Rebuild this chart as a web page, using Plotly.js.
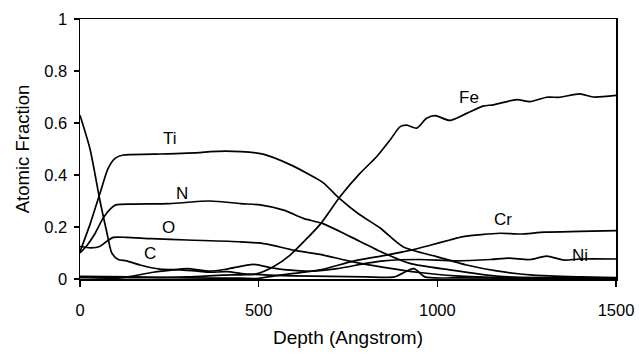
<!DOCTYPE html>
<html>
<head>
<meta charset="utf-8">
<script src="https://cdn.plot.ly/plotly-3.0.1.min.js"></script>
<style>html,body{margin:0;padding:0;background:#fff}#chart{width:639px;height:356px}</style>
</head>
<body>
<div id="chart"></div>
<script>
// Depth (Angstrom) and atomic fraction for each element
const tiDepth = [0, 28, 56, 79, 98, 121, 205, 336, 364, 450, 512, 588, 644, 681, 722, 780, 840, 904, 998, 1082, 1170, 1268, 1400, 1500];
const tiFrac  = [0.105, 0.21, 0.33, 0.426, 0.464, 0.477, 0.48, 0.486, 0.49, 0.49, 0.48, 0.44, 0.40, 0.37, 0.315, 0.25, 0.196, 0.124, 0.086, 0.054, 0.03, 0.015, 0.008, 0.005];

const nDepth = [0, 20, 40, 65, 85, 100, 150, 250, 364, 450, 504, 570, 625, 680, 756, 850, 923, 1035, 1175, 1300, 1500];
const nFrac  = [0.10, 0.13, 0.17, 0.235, 0.27, 0.285, 0.288, 0.29, 0.30, 0.29, 0.285, 0.265, 0.233, 0.213, 0.163, 0.10, 0.06, 0.035, 0.01, 0.005, 0.003];

const oDepth = [0, 30, 55, 75, 93, 130, 200, 300, 450, 520, 600, 672, 750, 850, 950, 1050, 1200, 1500];
const oFrac  = [0.125, 0.12, 0.125, 0.145, 0.16, 0.16, 0.155, 0.15, 0.143, 0.135, 0.11, 0.095, 0.07, 0.045, 0.025, 0.012, 0.005, 0.003];

const cDepth = [0, 28, 56, 75, 89, 107, 130, 168, 224, 280, 330, 364, 411, 460, 530, 600, 700, 800, 880, 934, 965, 1050, 1500];
const cFrac  = [0.63, 0.50, 0.30, 0.18, 0.10, 0.075, 0.07, 0.054, 0.038, 0.035, 0.03, 0.026, 0.028, 0.02, 0.015, 0.012, 0.01, 0.008, 0.008, 0.04, 0.008, 0.004, 0.002];

const feDepth = [0, 100, 200, 300, 400, 494, 541, 588, 640, 675, 728, 784, 830, 868, 896, 914, 942, 970, 994, 1035, 1082, 1128, 1157, 1222, 1259, 1306, 1343, 1399, 1436, 1500];
const feFrac  = [0.005, 0.005, 0.005, 0.008, 0.015, 0.02, 0.047, 0.092, 0.163, 0.215, 0.317, 0.407, 0.47, 0.535, 0.586, 0.592, 0.58, 0.618, 0.628, 0.61, 0.637, 0.665, 0.67, 0.69, 0.682, 0.699, 0.699, 0.712, 0.70, 0.706];

const crDepth = [0, 150, 300, 450, 494, 560, 672, 765, 850, 923, 980, 1035, 1073, 1175, 1231, 1300, 1400, 1500];
const crFrac  = [0.01, 0.008, 0.004, 0.003, 0.002, 0.015, 0.035, 0.069, 0.09, 0.11, 0.13, 0.15, 0.163, 0.176, 0.173, 0.18, 0.183, 0.186];

const niDepth = [0, 112, 205, 260, 300, 364, 411, 485, 532, 580, 650, 720, 800, 850, 950, 1050, 1150, 1200, 1260, 1306, 1353, 1400, 1500];
const niFrac  = [0.008, 0.004, 0.026, 0.035, 0.04, 0.03, 0.038, 0.056, 0.044, 0.035, 0.03, 0.04, 0.06, 0.07, 0.075, 0.07, 0.075, 0.08, 0.075, 0.088, 0.073, 0.077, 0.077];

const labels = ["Ti", "N", "O", "C", "Fe", "Cr", "Ni"];
const labelDepth = [252, 285, 247, 196, 1089, 1184, 1400];
const labelFrac  = [0.542, 0.33, 0.20, 0.10, 0.70, 0.227, 0.092];

const series = [[tiDepth, tiFrac], [nDepth, nFrac], [oDepth, oFrac], [cDepth, cFrac],
                [feDepth, feFrac], [crDepth, crFrac], [niDepth, niFrac]];

const traces = series.map((s, i) => ({
  x: s[0], y: s[1], type: 'scatter', mode: 'lines', name: labels[i],
  line: {color: '#000', width: 1.7, shape: 'spline', smoothing: 0.7},
  hoverinfo: 'skip'
}));

const annotations = labels.map((t, i) => ({
  x: labelDepth[i], y: labelFrac[i], xref: 'x', yref: 'y', text: t,
  showarrow: false, font: {family: 'Liberation Sans, Arial, sans-serif', size: 17, color: '#000'}
}));

const layout = {
  width: 639, height: 356,
  margin: {l: 80, r: 23, t: 19, b: 77},
  paper_bgcolor: '#fff', plot_bgcolor: '#fff',
  showlegend: false,
  font: {family: 'Liberation Sans, Arial, sans-serif', size: 16.5, color: '#000'},
  xaxis: {
    range: [0, 1500], tickvals: [0, 500, 1000, 1500], ticktext: ['0', '500', '1000', '1500'],
    ticks: 'outside', ticklen: 6, tickwidth: 1.5, tickcolor: '#000',
    showline: true, linewidth: 1.5, linecolor: '#000', mirror: true,
    showgrid: false, zeroline: false, ticklabelstandoff: 10,
    title: {text: 'Depth (Angstrom)', font: {size: 19}, standoff: 12}
  },
  yaxis: {
    range: [0, 1], tickvals: [0, 0.2, 0.4, 0.6, 0.8, 1], ticktext: ['0', '0.2', '0.4', '0.6', '0.8', '1'],
    ticks: 'outside', ticklen: 5, tickwidth: 1.5, tickcolor: '#000',
    showline: true, linewidth: 1.5, linecolor: '#000', mirror: true,
    showgrid: false, zeroline: false, ticklabelstandoff: 3,
    title: {text: 'Atomic Fraction', font: {size: 18.5}, standoff: 10}
  },
  annotations: annotations
};

Plotly.newPlot('chart', traces, layout, {staticPlot: true, displayModeBar: false});
</script>
</body>
</html>
